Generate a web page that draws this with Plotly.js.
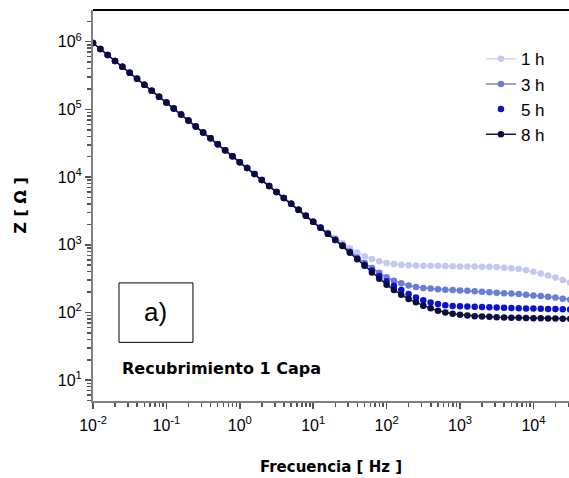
<!DOCTYPE html>
<html>
<head>
<meta charset="utf-8">
<script src="https://cdn.plot.ly/plotly-3.0.1.min.js"></script>
<style>html,body{margin:0;padding:0;background:#fff;}#chart{width:569px;height:478px;}</style>
</head>
<body>
<div id="chart"></div>
<script>
// Frequency sweep (Hz), 10 points per decade
const freq = [
  0.01, 0.01259, 0.01585, 0.01995, 0.02512, 0.03162, 0.03981, 0.05012, 0.0631, 0.07943,
  0.1, 0.1259, 0.1585, 0.1995, 0.2512, 0.3162, 0.3981, 0.5012, 0.631, 0.7943,
  1, 1.259, 1.585, 1.995, 2.512, 3.162, 3.981, 5.012, 6.31, 7.943,
  10, 12.59, 15.85, 19.95, 25.12, 31.62, 39.81, 50.12, 63.1, 79.43,
  100, 125.9, 158.5, 199.5, 251.2, 316.2, 398.1, 501.2, 631, 794.3,
  1000, 1259, 1585, 1995, 2512, 3162, 3981, 5012, 6310, 7943,
  10000, 12590, 15850, 19950, 25120, 31620];

// |Z| (Ohm) shared by all series from 0.01 Hz to 10 Hz (capacitive region)
const zLowFreq = [
  955000, 780000, 637000, 520000, 425000, 347000, 283000, 231000, 189000, 154000,
  126000, 103000, 83900, 68500, 56000, 45700, 37300, 30500, 24900, 20300,
  16600, 13600, 11100, 9040, 7380, 6030, 4920, 4020, 3280, 2680,
  2190];

// |Z| (Ohm) from 12.59 Hz to 31.6 kHz, per immersion time
const z1hHigh = [1820, 1510, 1260, 1050, 891, 767, 676, 617, 569,
  537, 518, 506, 499, 494, 490, 489, 488, 485, 482,
  479, 478, 476, 475, 472, 468, 459, 451, 437, 422,
  398, 376, 351, 327, 302, 275];
const z3hHigh = [1800, 1460, 1200, 989, 794, 646, 537, 452, 385,
  331, 295, 269, 251, 237, 229, 225, 221, 217, 214,
  211, 209, 206, 202, 199, 195, 193, 190, 187, 183,
  178, 175, 170, 166, 160, 155];
const z5hHigh = [1780, 1450, 1180, 966, 776, 624, 507, 417, 347,
  288, 248, 214, 188, 166, 151, 140, 133, 128, 125,
  123, 122, 121, 120, 119, 118, 117, 116.4, 115.6, 114.8,
  114.3, 113.5, 112.7, 112.2, 111.4, 110.9];
const z8hHigh = [1780, 1450, 1180, 955, 759, 610, 490, 389, 316,
  257, 214, 182, 158, 141, 126, 115, 106, 100, 95.5,
  92.3, 90.2, 88.1, 87.1, 86.1, 85.1, 84.5, 83.8, 83.2, 82.8,
  82.2, 81.8, 81.5, 81.1, 80.7, 80.4];

const seriesNames = ["1 h", "3 h", "5 h", "8 h"];

const xTickVals = [0.01, 0.1, 1, 10, 100, 1000, 10000];
const xTickText = ["10<sup>-2</sup>", "10<sup>-1</sup>", "10<sup>0</sup>", "10<sup>1</sup>", "10<sup>2</sup>", "10<sup>3</sup>", "10<sup>4</sup>"];
const yTickVals = [10, 100, 1000, 10000, 100000, 1000000];
const yTickText = ["10<sup>1</sup>", "10<sup>2</sup>", "10<sup>3</sup>", "10<sup>4</sup>", "10<sup>5</sup>", "10<sup>6</sup>"];

const traces = [
  {x: freq, y: zLowFreq.concat(z1hHigh), name: seriesNames[0], mode: "lines+markers",
   line: {color: "#d3d6f2", width: 1.5}, marker: {color: "#c4c8ee", size: 6.5}},
  {x: freq, y: zLowFreq.concat(z3hHigh), name: seriesNames[1], mode: "lines+markers",
   line: {color: "#7385d4", width: 1.5}, marker: {color: "#6a7dd4", size: 6.5}},
  {x: freq, y: zLowFreq.concat(z5hHigh), name: seriesNames[2], mode: "markers",
   marker: {color: "#0a12d2", size: 6.5}},
  {x: freq, y: zLowFreq.concat(z8hHigh), name: seriesNames[3], mode: "lines+markers",
   line: {color: "#14144a", width: 1.5}, marker: {color: "#0b0b3e", size: 6.5}}
];

const axisFont = {family: "Liberation Sans, Arial, sans-serif", size: 16, color: "#000"};
const layout = {
  width: 569, height: 478,
  margin: {l: 93, r: 0, t: 10, b: 77},
  paper_bgcolor: "#fff", plot_bgcolor: "#fff",
  showlegend: true,
  legend: {x: 0.815, y: 0.92, xanchor: "left", yanchor: "top",
    font: {family: "Liberation Sans, Arial, sans-serif", size: 17, color: "#000"},
    bgcolor: "rgba(0,0,0,0)", tracegroupgap: 0},
  xaxis: {type: "log", range: [-2, 4.485], showgrid: false, zeroline: false,
    showline: true, linecolor: "#808080", linewidth: 2,
    ticks: "outside", ticklen: 6, tickwidth: 1.5, tickcolor: "#555",
    tickmode: "array", tickvals: xTickVals, ticktext: xTickText,
    tickfont: axisFont, ticklabelstandoff: 3,
    minor: {dtick: "D1", ticks: "outside", ticklen: 4, tickwidth: 1.5, tickcolor: "#555", showgrid: false},
    title: {text: "Frecuencia [ Hz ]", font: {family: "DejaVu Sans, Verdana, sans-serif", size: 15, color: "#000", weight: "bold"}, standoff: 28}},
  yaxis: {type: "log", range: [0.692, 6.468], showgrid: false, zeroline: false,
    showline: true, linecolor: "#808080", linewidth: 2,
    ticks: "outside", ticklen: 6, tickwidth: 1.5, tickcolor: "#555",
    tickmode: "array", tickvals: yTickVals, ticktext: yTickText,
    tickfont: axisFont,
    minor: {dtick: "D1", ticks: "outside", ticklen: 4, tickwidth: 1.5, tickcolor: "#555", showgrid: false},
    title: {text: "Z [ Ω ]", font: {family: "DejaVu Sans, Verdana, sans-serif", size: 16, color: "#000", weight: "bold"}, standoff: 27}},
  shapes: [
    {type: "line", xref: "paper", yref: "paper", x0: 0, x1: 1, y0: 1, y1: 1, line: {color: "#000", width: 2}},
    {type: "rect", xref: "paper", yref: "paper", x0: 0.0546, x1: 0.21, y0: 0.15, y1: 0.302, line: {color: "#000", width: 1}}
  ],
  annotations: [
    {xref: "paper", yref: "paper", x: 0.132, y: 0.228, xanchor: "center", yanchor: "middle", text: "a)", showarrow: false,
     font: {family: "Liberation Sans, Arial, sans-serif", size: 26, color: "#000"}},
    {xref: "paper", yref: "paper", x: 0.0567, y: 0.082, xanchor: "left", yanchor: "middle", text: "<b>Recubrimiento 1 Capa</b>", showarrow: false,
     font: {family: "DejaVu Sans, Verdana, sans-serif", size: 16, color: "#000"}}
  ]
};

Plotly.newPlot("chart", traces, layout, {displayModeBar: false, staticPlot: true});
</script>
</body>
</html>
